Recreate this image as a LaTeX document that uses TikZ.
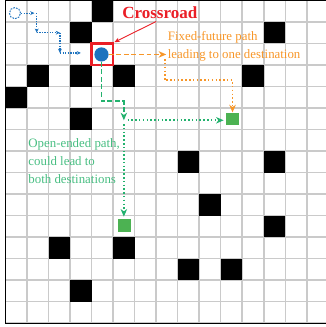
\documentclass[tikz,border=0pt]{standalone}
\usepackage{amssymb,amsmath,graphicx,color,tikz}
\usepackage{fontspec}
\setmainfont{Liberation Serif}
\usetikzlibrary{arrows.meta}
\definecolor{crossred}{RGB}{234,30,38}
\definecolor{pathblue}{RGB}{30,115,190}
\definecolor{fixorange}{RGB}{247,150,40}
\definecolor{opengreen}{RGB}{35,178,110}
\definecolor{textgreen}{RGB}{72,190,130}
\definecolor{destgreen}{RGB}{76,178,82}
\definecolor{gridgray}{RGB}{202,202,202}

\begin{document}
\begin{tikzpicture}[
  blocked/.style={fill=black},
  dest/.style={fill=destgreen, minimum size=0.6cm, inner sep=0},
  blueway/.style={pathblue, line width=1.6pt, dash pattern=on 1.8pt off 1.6pt, -{Stealth[length=5.5pt,width=5pt]}},
  bigtip/.style={-{Stealth[length=10pt,width=8.5pt,inset=3pt]}},
  dashway/.style={line width=2.3pt, dash pattern=on 6.5pt off 3.5pt},
  dotway/.style={line width=2.3pt, dash pattern=on 2pt off 3pt},
  note/.style={font=\fontsize{17}{24}\selectfont, align=left, inner sep=0}]
\useasboundingbox (-0.255,-0.174) rectangle (14.873,15.02);
\draw[gridgray, line width=2pt] (0,0) grid (15,15);
\fill[blocked] (4,14) rectangle +(1,1);
\fill[blocked] (3,13) rectangle +(1,1);
\fill[blocked] (12,13) rectangle +(1,1);
\fill[blocked] (1,11) rectangle +(1,1);
\fill[blocked] (3,11) rectangle +(1,1);
\fill[blocked] (5,11) rectangle +(1,1);
\fill[blocked] (11,11) rectangle +(1,1);
\fill[blocked] (0,10) rectangle +(1,1);
\fill[blocked] (3,9) rectangle +(1,1);
\fill[blocked] (8,7) rectangle +(1,1);
\fill[blocked] (12,7) rectangle +(1,1);
\fill[blocked] (9,5) rectangle +(1,1);
\fill[blocked] (12,4) rectangle +(1,1);
\fill[blocked] (2,3) rectangle +(1,1);
\fill[blocked] (5,3) rectangle +(1,1);
\fill[blocked] (8,2) rectangle +(1,1);
\fill[blocked] (10,2) rectangle +(1,1);
\fill[blocked] (3,1) rectangle +(1,1);
\draw[line width=1.8pt] (0,0) rectangle (15,15);

\node[draw=crossred, line width=3.5pt, minimum size=1cm, inner sep=0] (cross) at (4.5,12.5) {};
\node[circle, fill=pathblue, minimum size=0.66cm, inner sep=0] (dot) at (4.46,12.49) {};
\node[circle, draw=pathblue, line width=1.3pt, dash pattern=on 2.2pt off 1.6pt, minimum size=0.52cm, inner sep=0] (start) at (0.44,14.41) {};
\node[dest] (dest1) at (10.55,9.49) {};
\node[dest] (dest2) at (5.53,4.54) {};

\node[crossred, font=\fontsize{22.5}{26}\selectfont\bfseries, anchor=base, inner sep=0] (crosslabel) at (7.17,14.16) {Crossroad};
\node[note, fixorange, anchor=west] (fixlabel) at (7.54,12.88) {Fixed-future path\\leading to one destination};
\node[note, textgreen, anchor=west] (openlabel) at (1.06,7.52) {Open-ended path,\\could lead to\\both destinations};

\coordinate (b1) at (1.45,14.41);
\coordinate (b2) at (1.45,13.5);
\coordinate (b3) at (2.53,13.5);
\coordinate (b4) at (2.53,12.56);
\coordinate (b5) at (3.5,12.56);
\draw[blueway] (start.east) -- ([xshift=-3pt]b1);
\draw[blueway] (b1) -- (b2);
\draw[blueway] (b2) -- (b3);
\draw[blueway] (b3) -- (b4);
\draw[blueway] (b4) -- (b5);

\coordinate (crosstail) at (7.0,14.02);
\draw[crossred, line width=1.2pt, -{Stealth[length=7pt,width=6pt]}] (crosstail) -- (cross.north east);

\coordinate (ofork) at (7.47,12.49);
\coordinate (odrop) at (7.40,12.27);
\coordinate (oturn) at (7.40,11.29);
\draw[fixorange, dashway, bigtip] (dot.east) -- (ofork);
\draw[fixorange, dotway, bigtip] (odrop) -- (oturn) -| (dest1.north);

\coordinate (gturn) at (4.46,10.31);
\coordinate (gsplit) at (5.5,9.43);
\draw[opengreen, dashway, bigtip] (dot.south) -- (gturn) -| (gsplit);
\draw[opengreen, dotway, bigtip, shorten >=3pt] ([xshift=5pt]gsplit) -- (gsplit -| dest1.west);
\draw[opengreen, dotway, bigtip, shorten >=3pt] ([yshift=-5pt]gsplit) -- (gsplit |- dest2.north);
\end{tikzpicture}
\end{document}
